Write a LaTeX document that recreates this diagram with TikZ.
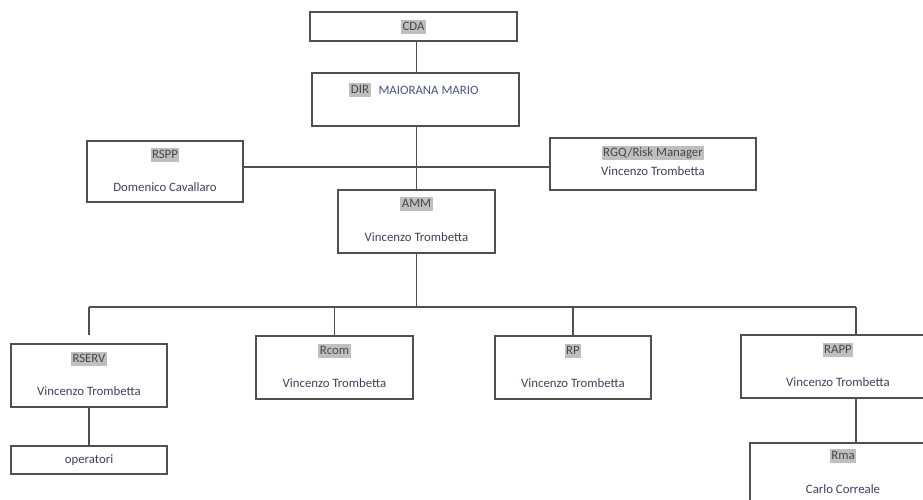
\documentclass[tikz,border=0pt]{standalone}
\usepackage{fontspec}
\setmainfont{Carlito}
\usepackage{xcolor}
\usepackage{tikz}
\usetikzlibrary{positioning}

\definecolor{namecol}{RGB}{62,66,92}
\definecolor{dircol}{RGB}{70,86,132}
\definecolor{tagcol}{RGB}{72,72,72}
\definecolor{linecol}{RGB}{80,80,80}

\begin{document}
\begin{tikzpicture}[
    x=1pt, y=-1pt,
    unit/.style={draw=linecol, line width=1.2pt, fill=white, inner sep=0pt},
    tag/.style={fill=black!25, text=tagcol, inner xsep=1.5pt, inner ysep=1.5pt, text height=9pt, text depth=2pt, font=\fontsize{12.8}{14}\selectfont},
    who/.style={text=namecol, inner sep=0pt, font=\fontsize{12.8}{14}\selectfont},
    link/.style={draw=linecol, line width=1.2pt}
]
\useasboundingbox (0,0) rectangle (923,499);
\clip (0,0) rectangle (923,499);

% ---- Board and director ----
\node[unit, minimum width=207pt, minimum height=29pt] (cda) at (413.5, 26.5) {};
\node[tag] (cda-t) at (cda) {CDA};
\node[unit, minimum width=207pt, minimum height=53pt] (dir) at (415.5, 99.5) {};
\node[tag] (dir-t) at (360, 90) {DIR};
\node[who, text=dircol] (dir-n) at (428.5, 90) {MAIORANA MARIO};

% ---- Staff on the side ----
\node[unit, minimum width=156pt, minimum height=61pt] (rspp) at (165, 171.5) {};
\node[tag] (rspp-t) at ([yshift=-15pt]rspp.north) {RSPP};
\node[who] (rspp-n) at ([yshift=-47pt]rspp.north) {Domenico Cavallaro};

\node[unit, minimum width=206pt, minimum height=52pt] (rgq) at (653, 164) {};
\node[tag] (rgq-t) at ([yshift=-16pt]rgq.north) {RGQ/Risk Manager};
\node[who] (rgq-n) at ([yshift=-34pt]rgq.north) {Vincenzo Trombetta};

% ---- AMM ----
\node[unit, minimum width=157pt, minimum height=63pt] (amm) at (416.5, 221.5) {};
\node[tag] (amm-t) at ([yshift=-15pt]amm.north) {AMM};
\node[who] (amm-n) at ([yshift=-48pt]amm.north) {Vincenzo Trombetta};

% ---- Bottom row ----
\foreach \nm/\x/\y/\w/\lbl in {rserv/89/375.5/156/RSERV, rcom/334.5/367.5/157/Rcom, rp/573/367.5/156/RP, rapp/838/366.5/194/RAPP} {
    \node[unit, minimum width=\w pt, minimum height=63pt] (\nm) at (\x, \y) {};
    \node[tag] (\nm-t) at ([yshift=-16pt]\nm.north) {\lbl};
    \node[who] (\nm-n) at ([yshift=-47.5pt]\nm.north) {Vincenzo Trombetta};
}

\node[unit, minimum width=156pt, minimum height=28pt] (ops) at (89, 460) {};
\node[who] (ops-n) at (ops) {operatori};

\node[unit, minimum width=186pt, minimum height=63pt] (rma) at (843, 474.5) {};
\node[tag] (rma-t) at ([yshift=-14pt]rma.north) {Rma};
\node[who] (rma-n) at ([yshift=-47pt]rma.north) {Carlo Correale};

% ---- Connectors ----
\coordinate (cross) at (0, 167);
\coordinate (bus) at (0, 307);
\coordinate (rservend) at (89, 335);
\coordinate (rappstub) at (856, 307);

\draw[link] (cda.south -| amm.north) -- (dir.north -| amm.north);
\draw[link] (dir.south -| amm.north) -- (amm.north);
\draw[link] (rspp.east |- cross) -- (rgq.west |- cross);
\draw[link] (amm.south) -- (amm.south |- bus);
\draw[link] (rserv.north |- bus) -- (rappstub);
\draw[link] (rserv.north |- bus) -- (rservend);
\foreach \nm in {rcom, rp} { \draw[link] (\nm.north |- bus) -- (\nm.north); }
\draw[link] (rappstub) -- (rappstub |- rapp.north);
\draw[link] (rapp.south -| rappstub) -- (rappstub |- rma.north);
\draw[link] (rserv.south) -- (ops.north);

\end{tikzpicture}
\end{document}
